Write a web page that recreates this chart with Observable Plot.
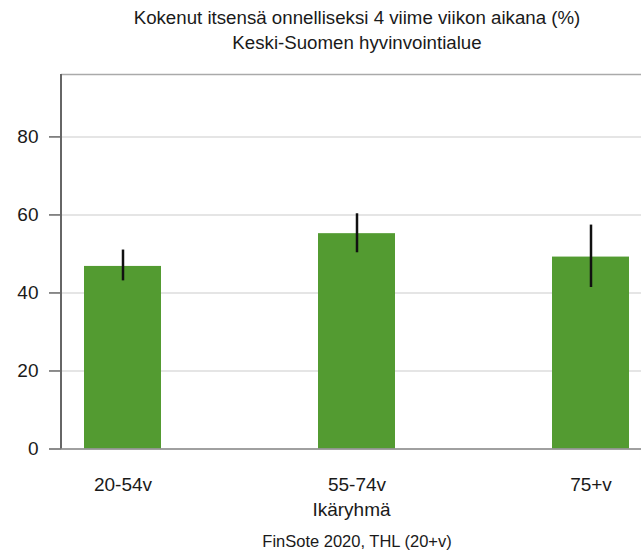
<!DOCTYPE html>
<html>
<head>
<meta charset="utf-8">
<script src="https://cdn.jsdelivr.net/npm/d3@7"></script>
<script src="https://cdn.jsdelivr.net/npm/@observablehq/plot@0.6"></script>
<style>
  html, body { margin: 0; padding: 0; background: #fff; overflow: hidden; }
  body { width: 641px; height: 551px; font-family: "Liberation Sans", Arial, sans-serif; color: #1a1a1a; }
  #title { width: 641px; box-sizing: border-box; padding-left: 73px; padding-top: 5px; height: 60px; text-align: center; font-size: 18.7px; line-height: 25px; white-space: nowrap; }
  #chart svg { display: block; }
  #caption { width: 641px; box-sizing: border-box; padding-left: 73px; padding-top: 3px; text-align: center; font-size: 16.5px; line-height: 32px; }
</style>
</head>
<body>
<div id="title"><div>Kokenut itsensä onnelliseksi 4 viime viikon aikana (%)</div><div>Keski-Suomen hyvinvointialue</div></div>
<div id="chart"></div>
<div id="caption">FinSote 2020, THL (20+v)</div>
<script>
const categories = ["20-54v", "55-74v", "75+v"];
const values = [46.8, 55.2, 49.2];
const lower = [43.1, 50.3, 41.4];
const upper = [51.0, 60.3, 57.4];
const yTicks = [0, 20, 40, 60, 80];
const yMax = 96;
const xLabel = "Ikäryhmä";

const data = categories.map((c, i) => ({cat: c, value: values[i], lo: lower[i], hi: upper[i]}));

const leftLine = (index, scales, values, dims) => {
  const g = d3.create("svg:line")
    .attr("x1", dims.marginLeft).attr("x2", dims.marginLeft)
    .attr("y1", dims.marginTop).attr("y2", dims.height - dims.marginBottom)
    .attr("stroke", "#666").attr("stroke-width", 2);
  return g.node();
};

const chart = Plot.plot({
  width: 641,
  height: 462,
  marginLeft: 61,
  marginRight: 0,
  marginTop: 14,
  marginBottom: 73.5,
  style: {fontFamily: "'Liberation Sans', Arial, sans-serif", fontSize: "19px", color: "#1a1a1a", background: "#fff"},
  x: {type: "band", domain: categories, range: [61, 651.5], paddingInner: 0.67, paddingOuter: 0.094},
  y: {domain: [0, yMax]},
  marks: [
    Plot.gridY(yTicks, {stroke: "#dcdcdc", strokeOpacity: 1, strokeWidth: 1.5}),
    Plot.barY(data, {x: "cat", y: "value", fill: "#539b31"}),
    Plot.ruleX(data, {x: "cat", y1: "lo", y2: "hi", stroke: "#111", strokeWidth: 2.5}),
    Plot.ruleY([yMax], {stroke: "#aaa", strokeWidth: 1.5}),
    Plot.axisY({ticks: yTicks, tickSize: 12, tickPadding: 11, stroke: "#666", strokeOpacity: 1, strokeWidth: 1.5, label: null, fill: "#1a1a1a"}),
    Plot.ruleY([0], {stroke: "#888", strokeWidth: 1.5}),
    leftLine,
    Plot.axisX({tickSize: 0, tickPadding: 28, label: xLabel, labelAnchor: "center", labelOffset: 66.5, fill: "#1a1a1a"})
  ]
});
document.getElementById("chart").appendChild(chart);
</script>
</body>
</html>
